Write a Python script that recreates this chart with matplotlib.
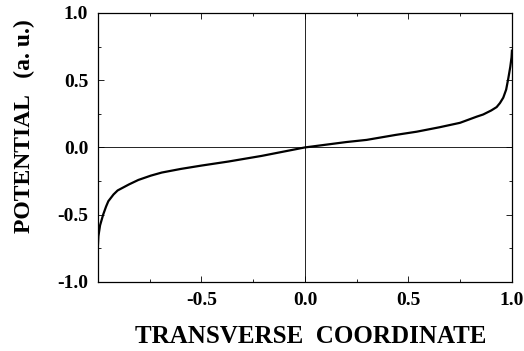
import matplotlib
matplotlib.use("Agg")
import matplotlib.pyplot as plt
from matplotlib.ticker import MultipleLocator, FixedLocator

# values
coord = [-1.0, -0.998, -0.99, -0.975, -0.961, -0.95, -0.925, -0.905, -0.85,
         -0.805, -0.745, -0.692, -0.6, -0.5, -0.37, -0.209, 0.0, 0.2, 0.298,
         0.438, 0.54, 0.65, 0.749, 0.83, 0.861, 0.9, 0.926, 0.942, 0.958,
         0.972, 0.982, 0.992, 0.998, 1.0]
potential = [-0.72, -0.66, -0.58, -0.50, -0.44, -0.40, -0.35, -0.32, -0.275,
             -0.242, -0.21, -0.187, -0.16, -0.135, -0.105, -0.063, 0.0, 0.04,
             0.056, 0.093, 0.117, 0.15, 0.183, 0.229, 0.245, 0.275, 0.30, 0.33,
             0.37, 0.43, 0.51, 0.60, 0.67, 0.72]

xticks = [-0.5, 0.0, 0.5, 1.0]
yticks = [-1.0, -0.5, 0.0, 0.5, 1.0]

plt.rcParams['font.family'] = ['Liberation Serif', 'DejaVu Serif']
plt.rcParams['font.weight'] = 'bold'

fig = plt.figure(figsize=(5.24, 3.51), dpi=100)
ax = fig.add_axes([0.187, 0.197, 0.79, 0.766])

ax.axhline(0, color='black', lw=0.6)
ax.axvline(0, color='black', lw=0.6)
ax.plot(coord, potential, color='black', lw=1.6)

ax.set_xlim(-1, 1)
ax.set_ylim(-1, 1)
ax.xaxis.set_major_locator(FixedLocator(xticks))
ax.yaxis.set_major_locator(FixedLocator(yticks))
ax.xaxis.set_minor_locator(MultipleLocator(0.25))
ax.yaxis.set_minor_locator(MultipleLocator(0.25))
ax.set_xticklabels([f"{v:.1f}" for v in xticks])
ax.set_yticklabels([f"{v:.1f}" for v in yticks])

ax.tick_params(which='both', direction='in', top=True, right=True,
               labelsize=14, width=0.6)
ax.tick_params(which='major', length=4, pad=7)
ax.tick_params(which='minor', length=2.5)
for s in ax.spines.values():
    s.set_linewidth(0.9)

ax.set_xlabel("TRANSVERSE  COORDINATE", fontsize=18, fontweight='bold')
ax.set_ylabel("POTENTIAL   (a. u.)", fontsize=17, fontweight='bold')
ax.xaxis.set_label_coords(0.515, -0.16)
ax.yaxis.set_label_coords(-0.153, 0.58)

fig.savefig("out.png", dpi=100)
